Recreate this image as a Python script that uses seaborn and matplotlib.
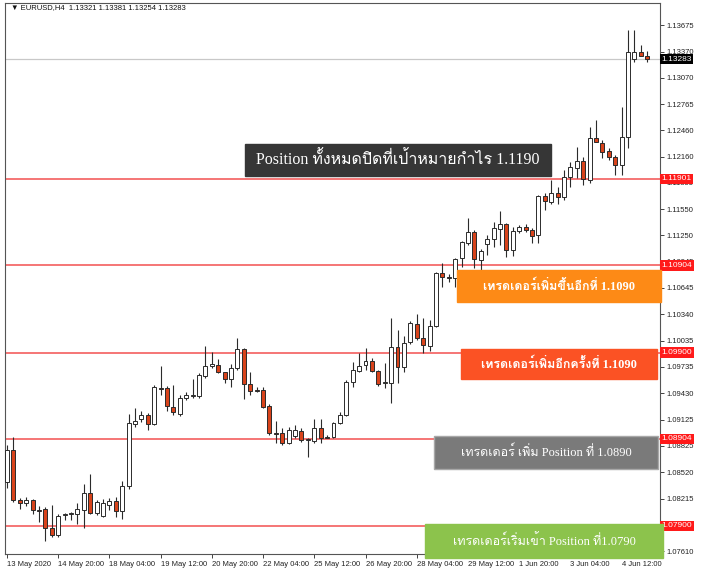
import matplotlib
matplotlib.use('Agg')
import matplotlib.pyplot as plt
import matplotlib.patches as mpatches
import numpy as np
import pandas as pd
import seaborn as sns

# EURUSD H4 candles
opens = [1.0841, 1.0878, 1.0820, 1.0817, 1.0820, 1.0808, 1.0810, 1.0788, 1.0780, 1.0803,
         1.0804, 1.0804, 1.0808, 1.0828, 1.0805, 1.0802, 1.0814, 1.0819, 1.0807, 1.0836,
         1.0908, 1.0913, 1.0918, 1.0908, 1.0949, 1.0949, 1.0927, 1.0919, 1.0938, 1.0940,
         1.0940, 1.0963, 1.0975, 1.0976, 1.0968, 1.0960, 1.0972, 1.0994, 1.0954, 1.0947,
         1.0947, 1.0928, 1.0897, 1.0897, 1.0886, 1.0894, 1.0900, 1.0889, 1.0888, 1.0903,
         1.0893, 1.0893, 1.0909, 1.0918, 1.0956, 1.0969, 1.0976, 1.0980, 1.0969, 1.0955,
         1.0955, 1.0996, 1.0973, 1.1002, 1.1023, 1.1007, 1.0998, 1.1021, 1.1082, 1.1077,
         1.1076, 1.1099, 1.1116, 1.1129, 1.1097, 1.1115, 1.1121, 1.1132, 1.1138, 1.1108,
         1.1130, 1.1135, 1.1131, 1.1126, 1.1170, 1.1164, 1.1174, 1.1169, 1.1192, 1.1203,
         1.1211, 1.1189, 1.1237, 1.1232, 1.1222, 1.1215, 1.1206, 1.1239, 1.1328, 1.1337,
         1.13321]
highs = [1.0883, 1.0893, 1.0822, 1.0823, 1.0821, 1.0813, 1.0812, 1.0814, 1.0804, 1.0805,
         1.0806, 1.0817, 1.0838, 1.0850, 1.0820, 1.0821, 1.0822, 1.0823, 1.0842, 1.0919,
         1.0926, 1.0923, 1.0920, 1.0953, 1.0975, 1.0951, 1.0953, 1.0941, 1.0945, 1.0960,
         1.0966, 1.0998, 1.0991, 1.0983, 1.0968, 1.0977, 1.1007, 1.0995, 1.0968, 1.0950,
         1.0950, 1.0931, 1.0911, 1.0903, 1.0904, 1.0906, 1.0903, 1.0891, 1.0913, 1.0913,
         1.0895, 1.0910, 1.0921, 1.0958, 1.0979, 1.0990, 1.0995, 1.0984, 1.0970, 1.0978,
         1.1030, 1.1016, 1.1009, 1.1026, 1.1034, 1.1030, 1.1028, 1.1083, 1.1093, 1.1081,
         1.1099, 1.1119, 1.1145, 1.1131, 1.1109, 1.1126, 1.1141, 1.1153, 1.1139, 1.1135,
         1.1137, 1.1138, 1.1134, 1.1172, 1.1174, 1.1189, 1.1181, 1.1201, 1.1210, 1.1227,
         1.1215, 1.1250, 1.1258, 1.1235, 1.1226, 1.1218, 1.1273, 1.1362, 1.1362, 1.1344,
         1.13381]
lows = [1.0834, 1.0818, 1.0810, 1.0813, 1.0804, 1.0795, 1.0773, 1.0777, 1.0777, 1.0797,
        1.0797, 1.0792, 1.0788, 1.0804, 1.0803, 1.0800, 1.0808, 1.0800, 1.0798, 1.0833,
        1.0904, 1.0910, 1.0901, 1.0906, 1.0941, 1.0923, 1.0918, 1.0917, 1.0935, 1.0938,
        1.0938, 1.0961, 1.0972, 1.0966, 1.0955, 1.0950, 1.0970, 1.0936, 1.0941, 1.0945,
        1.0926, 1.0895, 1.0886, 1.0883, 1.0885, 1.0891, 1.0887, 1.0870, 1.0886, 1.0886,
        1.0891, 1.0891, 1.0908, 1.0917, 1.0950, 1.0968, 1.0970, 1.0968, 1.0951, 1.0949,
        1.0932, 1.0955, 1.0968, 1.1000, 1.1005, 1.0989, 1.0992, 1.1019, 1.1066, 1.1071,
        1.1066, 1.1089, 1.1114, 1.1088, 1.1085, 1.1102, 1.1112, 1.1114, 1.1100, 1.1101,
        1.1128, 1.1129, 1.1116, 1.1116, 1.1154, 1.1161, 1.1161, 1.1166, 1.1181, 1.1191,
        1.1183, 1.1185, 1.1233, 1.1214, 1.1212, 1.1195, 1.1195, 1.1226, 1.1325, 1.1332,
        1.13254]
closes = [1.0878, 1.0820, 1.0817, 1.0820, 1.0808, 1.0807, 1.0788, 1.0780, 1.0802, 1.0804,
          1.0805, 1.0810, 1.0828, 1.0805, 1.0818, 1.0817, 1.0819, 1.0807, 1.0836, 1.0909,
          1.0911, 1.0918, 1.0908, 1.0950, 1.0948, 1.0928, 1.0921, 1.0938, 1.0941, 1.0941,
          1.0964, 1.0975, 1.0977, 1.0968, 1.0960, 1.0972, 1.0994, 1.0954, 1.0946, 1.0946,
          1.0927, 1.0897, 1.0896, 1.0886, 1.0901, 1.0901, 1.0889, 1.0890, 1.0903, 1.0891,
          1.0892, 1.0909, 1.0918, 1.0956, 1.0970, 1.0975, 1.0980, 1.0969, 1.0954, 1.0956,
          1.0996, 1.0973, 1.1001, 1.1024, 1.1007, 1.0999, 1.1021, 1.1082, 1.1077, 1.1076,
          1.1098, 1.1118, 1.1129, 1.1098, 1.1107, 1.1121, 1.1134, 1.1138, 1.1108, 1.1130,
          1.1135, 1.1131, 1.1124, 1.1170, 1.1165, 1.1174, 1.1169, 1.1192, 1.1204, 1.1211,
          1.1190, 1.1237, 1.1233, 1.1221, 1.1215, 1.1206, 1.1239, 1.1337, 1.1337, 1.1332,
          1.13283]

time_labels = ['13 May 2020', '14 May 20:00', '18 May 04:00', '19 May 12:00', '20 May 20:00',
               '22 May 04:00', '25 May 12:00', '26 May 20:00', '28 May 04:00', '29 May 12:00',
               '1 Jun 20:00', '3 Jun 04:00', '4 Jun 12:00']
label_every = 8

# 1.07910 sits under the 1.07900 level tag, so it is left out
price_ticks = [1.13675, 1.13370, 1.13070, 1.12765, 1.12460, 1.12160, 1.11855, 1.11550,
               1.11250, 1.10945, 1.10645, 1.10340, 1.10035, 1.09735, 1.09430, 1.09125,
               1.08825, 1.08520, 1.08215, 1.07610]

levels = [1.11901, 1.10904, 1.09900, 1.08904, 1.07900]
last_price = 1.13283
header = '\u25bc EURUSD,H4  1.13321 1.13381 1.13254 1.13283'

notes = ['Position ทั้งหมดปิดที่เป้าหมายกำไร 1.1190',
         'เทรดเดอร์เพิ่มขึ้นอีกที่ 1.1090',
         'เทรดเดอร์เพิ่มอีกครั้งที่ 1.1090',
         'เทรดเดอร์ เพิ่ม Position ที่ 1.0890',
         'เทรดเดอร์เริ่มเข้า Position ที่1.0790']

sns.set_theme(style='white')
plt.rcParams['font.family'] = ['Liberation Sans', 'DejaVu Sans']

W, H = 703, 574
fig = plt.figure(figsize=(W / 100, H / 100), dpi=100)
fig.patch.set_facecolor('white')
ax = fig.add_axes([5 / W, 20 / H, 655 / W, 551 / H])
ax.set_facecolor('white')

df = pd.DataFrame({'o': opens, 'h': highs, 'l': lows, 'c': closes})
df['x'] = np.arange(len(df))
up = df['c'] >= df['o']

# wicks, then bodies on top
ax.vlines(df['x'], df['l'], df['h'], color='#2b2b2b', lw=0.8, zorder=2)
body_lo = np.minimum(df['o'], df['c'])
body_h = np.maximum((df['c'] - df['o']).abs(), 0.00004)
ax.bar(df['x'], body_h, bottom=body_lo, width=0.62,
       color=np.where(up, 'white', '#d8431b'), edgecolor='#2b2b2b', linewidth=0.7, zorder=3)

for lv in levels:
    ax.axhline(lv, color='#f25050', lw=1.1, zorder=1)
ax.axhline(last_price, color='#c8c8c8', lw=0.9, zorder=1)

ax.set_xlim(-0.31, 102.0)
ax.set_ylim(1.07577, 1.1393)

ax.yaxis.tick_right()
ax.set_yticks(price_ticks)
ax.set_yticklabels([f'{p:.5f}' for p in price_ticks])
ax.tick_params(axis='y', right=True, length=3, width=0.6, labelsize=5.5, pad=2, colors='#222222')
ax.set_xticks(np.arange(len(time_labels)) * label_every)
ax.set_xticklabels(time_labels, ha='left')
ax.tick_params(axis='x', bottom=True, length=3, width=0.6, labelsize=5.5, pad=2, colors='#222222')
for s in ax.spines.values():
    s.set_color('#555555')
    s.set_linewidth(0.8)

# price tags on the right axis
for lv in levels:
    ax.annotate(f'{lv:.5f}', xy=(1.0, lv), xycoords=('axes fraction', 'data'),
                xytext=(1, 0), textcoords='offset points', ha='left', va='center',
                fontsize=6, color='white',
                bbox=dict(boxstyle='square,pad=0.2', fc='#ff1a1a', ec='none'), zorder=10,
                annotation_clip=False)
ax.annotate(f'{last_price:.5f}', xy=(1.0, last_price), xycoords=('axes fraction', 'data'),
            xytext=(1, 0), textcoords='offset points', ha='left', va='center',
            fontsize=6, color='white',
            bbox=dict(boxstyle='square,pad=0.2', fc='black', ec='none'), zorder=10,
            annotation_clip=False)

fig.text(11 / W, 1 - 8 / H, header, fontsize=5.5, ha='left', va='center', color='#111111')

# annotation boxes (pixel boxes: x0, y0, x1, y1)
boxes = [(245, 144, 551, 176), (457, 270, 661, 302), (461, 349, 657, 379),
         (434, 436, 658, 469), (425, 524, 663, 558)]
box_fc = ['#363636', '#fd8a16', '#fb5224', '#7a7a7a', '#8cc34c']
box_ec = ['#363636', '#fd8a16', '#fb5224', '#a8a8a8', '#8cc34c']
sizes = [11.5, 9, 9, 9, 9]
weights = ['normal', 'bold', 'bold', 'normal', 'normal']
fam = ['Liberation Serif', 'Loma', 'FreeSerif', 'DejaVu Sans']
for (x0, y0, x1, y1), fc, ec, txt, sz, wt in zip(boxes, box_fc, box_ec, notes, sizes, weights):
    fig.add_artist(mpatches.Rectangle((x0 / W, 1 - y1 / H), (x1 - x0) / W, (y1 - y0) / H,
                                      transform=fig.transFigure, fc=fc, ec=ec, lw=1, zorder=20))
    fig.text((x0 + x1) / 2 / W, 1 - (y0 + y1) / 2 / H, txt, ha='center', va='center',
             color='white', fontsize=sz, fontweight=wt, family=fam, zorder=21)

fig.savefig('out.png', dpi=100)
